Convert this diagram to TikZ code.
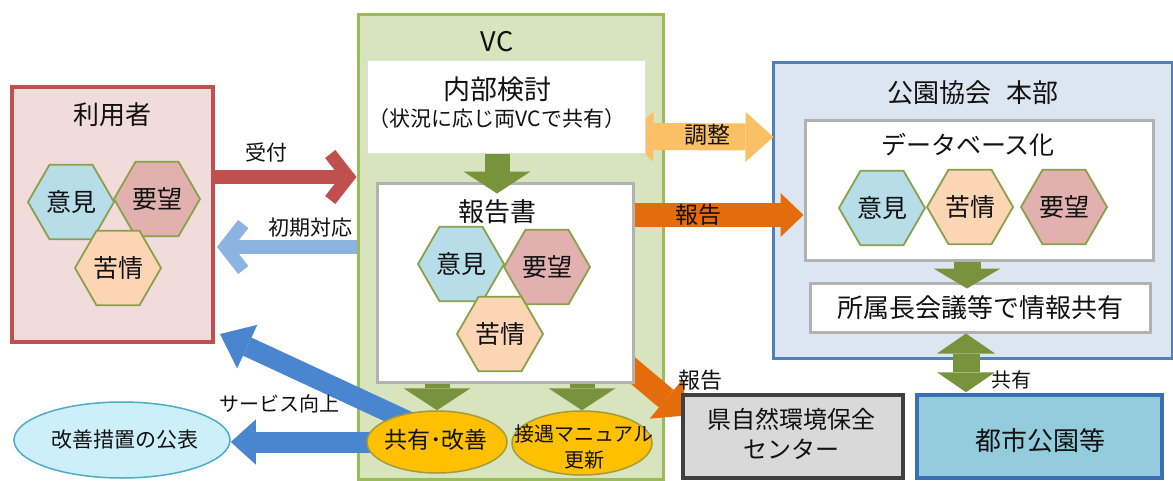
\documentclass[tikz,border=0pt]{standalone}
\usepackage{fontspec}
\setmainfont{Noto Sans CJK JP}
\usetikzlibrary{%
	arrows.meta,%
	calc,%
	shapes.geometric,%
	positioning%
}
\definecolor{usrline}{HTML}{C0504D}
\definecolor{usrfill}{HTML}{F2DCDB}
\definecolor{vcline}{HTML}{9BBB59}
\definecolor{vcfill}{HTML}{D7E4BD}
\definecolor{hqline}{HTML}{4F81BD}
\definecolor{hqfill}{HTML}{DCE6F2}
\definecolor{hexline}{HTML}{8AA04A}
\definecolor{iken}{HTML}{B7DEE8}
\definecolor{yobo}{HTML}{E2B0AF}
\definecolor{kujo}{HTML}{FCD5B5}
\definecolor{grn}{HTML}{77933C}
\definecolor{orng}{HTML}{E46C0A}
\definecolor{lorng}{HTML}{FBC066}
\definecolor{blu}{HTML}{4A86D0}
\definecolor{lblu}{HTML}{8DB3E2}
\definecolor{gold}{HTML}{FFC000}
\definecolor{goldline}{HTML}{A59A3A}
\definecolor{cyanfill}{HTML}{CDEFFA}
\definecolor{cyanline}{HTML}{4BACC6}
\definecolor{ctrfill}{HTML}{D9D9D9}
\definecolor{ctrline}{HTML}{404040}
\definecolor{parkfill}{HTML}{93CDDD}
\definecolor{parkline}{HTML}{3C6EB4}
\definecolor{txt}{HTML}{111111}

\pgfdeclarelayer{back}
\pgfdeclarelayer{mid}
\pgfsetlayers{back,mid,main}

\tikzset{
	box/.style={rectangle, inner sep=0pt},
	whitebox/.style={box, fill=white, draw=gray!60, line width=3pt},
	hexa/.style={regular polygon, regular polygon sides=6, minimum size=86pt, inner sep=0pt,
		draw=hexline, line width=1.8pt, text=txt, font=\fontsize{25}{27}\selectfont},
	oval/.style={ellipse, inner sep=0pt, line width=1.5pt},
	ttl/.style={text=txt, font=\fontsize{26}{28}\selectfont, inner sep=0pt},
	lbl/.style={text=txt, font=\fontsize{21}{23}\selectfont, inner sep=0pt},
	blk/.style={line width=#1},
	tri/.style 2 args={-{Triangle[length=#1,width=#2,line width=0pt]}},
	dtri/.style 2 args={{Triangle[length=#1,width=#2,line width=0pt]}-{Triangle[length=#1,width=#2,line width=0pt]}},
	barb/.style={-{Straight Barb[length=18pt,width=46pt,line width=13pt]}}
}

\begin{document}
\begin{tikzpicture}[x=1pt,y=-1pt,>=Stealth]
	\useasboundingbox (0,0) rectangle (1173,480);
	% outer boxes
	\begin{pgfonlayer}{back}
		\node[box, draw=usrline, fill=usrfill, line width=4pt, minimum width=201pt, minimum height=255pt] (user) at (112.5,214.5) {};
		\node[box, draw=vcline, fill=vcfill, line width=3pt, minimum width=305pt, minimum height=465pt] (vc) at (510.5,246.5) {};
		\node[box, draw=hqline, fill=hqfill, line width=3pt, minimum width=399pt, minimum height=296pt] (hq) at (972.5,210) {};
	\end{pgfonlayer}
	% inner boxes
	\node[box, fill=white, draw=gray!25, line width=1pt, minimum width=278pt, minimum height=93pt] (naibu) at (506,106.5) {};
	\node[whitebox, minimum width=256pt, minimum height=199pt] (report) at (505,282.5) {};
	\node[whitebox, minimum width=348pt, minimum height=140pt] (db) at (979,190) {};
	\node[whitebox, minimum width=340pt, minimum height=49pt] (share) at (980,307.5) {};
	\node[box, fill=ctrfill, draw=ctrline, line width=3.5pt, minimum width=220pt, minimum height=83pt] (ken) at (793,436.5) {};
	\node[box, fill=parkfill, draw=parkline, line width=3.5pt, minimum width=245pt, minimum height=83pt] (toshi) at (1039.5,436.5) {};
	\node[oval, fill=gold, draw=goldline, minimum width=140pt, minimum height=62pt] (kyoyu) at (437,442) {};
	\node[oval, fill=gold, draw=goldline, minimum width=140pt, minimum height=64pt] (settu) at (582,443) {};
	\node[oval, fill=cyanfill, draw=cyanline, minimum width=216pt, minimum height=76pt] (kaizen) at (122,440) {};
	% titles
	\node[ttl] (t-user) at (112,115) {利用者};
	\node[ttl, font=\fontsize{27}{29}\selectfont] (t-vc) at (497,42) {VC};
	\node[ttl, font=\fontsize{27}{29}\selectfont] (t-naibu) at (497,89) {内部検討};
	\node[ttl, font=\fontsize{21}{23}\selectfont] (t-jokyo) at (497,119) {（状況に応じ両VCで共有）};
	\node[ttl] (t-report) at (497,212) {報告書};
	\node[ttl] (t-hq) at (973,93) {公園協会\hspace{0.6em}本部};
	\node[ttl, font=\fontsize{25}{27}\selectfont] (t-db) at (968,145) {データベース化};
	\node[ttl] (t-share) at (980,308) {所属長会議等で情報共有};
	\node[ttl, font=\fontsize{24}{30}\selectfont, align=center] (t-ken) at (791,434) {県自然環境保全\\センター};
	\node[ttl] (t-toshi) at (1040,441) {都市公園等};
	\node[ttl, font=\fontsize{23}{25}\selectfont] (t-kyoyu) at (436,440) {共有･改善};
	\node[ttl, font=\fontsize{20}{26}\selectfont, align=center] (t-settu) at (584,447) {接遇マニュアル\\更新};
	\node[ttl, font=\fontsize{21}{23}\selectfont] (t-kaizen) at (125,440) {改善措置の公表};
	% hexagons
	\foreach \n/\t/\c/\x/\y in {u1/意見/iken/71/202, u2/要望/yobo/157/199, u3/苦情/kujo/118/268,
		r1/意見/iken/461/264, r2/要望/yobo/547/267, r3/苦情/kujo/500/334,
		d1/意見/iken/882/208, d2/苦情/kujo/970/207, d3/要望/yobo/1064/207}
		\node[hexa, fill=\c] (hx-\n) at (\x,\y) {\t};
	% block arrows
	\begin{pgfonlayer}{mid}
		\draw[blk=14pt, usrline, barb] ($(user.east)+(0,-37.5)$) -- ($(vc.west)+(0,-69.5)$);
		\draw[blk=14pt, lblu, barb] ($(vc.west)+(0,0.5)$) -- ($(user.east)+(2,32.5)$);
		\draw[blk=20pt, blu, tri={30pt}{48pt}] ($(kyoyu.center)+(-25,-19)$) -- ($(user.south east)+(5,-10)$);
		\draw[blk=21pt, blu, tri={25pt}{45pt}] (kyoyu.center) -- (kyoyu.center -| kaizen.east);
		\draw[blk=27pt, lorng, dtri={28pt}{50pt}] ($(naibu.east)+(-20,30)$) -- ($(hq.west)+(2,-73)$);
		\draw[blk=24pt, orng, tri={23pt}{44pt}] ($(report.east)+(0,-67.5)$) -- ($(db.west)+(0,25)$);
		\draw[blk=23pt, orng, tri={26pt}{52pt}] ($(report.south east)+(-10,-20)$) -- ($(ken.west)+(5,-21)$);
	\end{pgfonlayer}
	\draw[blk=25pt, grn, tri={22pt}{67pt}] ($(naibu.south)+(-9,0)$) -- ($(report.north)+(-8,12)$);
	\draw[blk=25pt, grn, tri={22pt}{67pt}] (report.south -| kyoyu.north) -- (kyoyu.north);
	\draw[blk=25pt, grn, tri={22pt}{67pt}] (report.south -| settu.north) -- (settu.north);
	\draw[blk=27pt, grn, tri={20pt}{67pt}] ($(db.south)+(-12,0)$) -- ($(share.north)+(-13,7)$);
	\draw[blk=27pt, grn, dtri={20pt}{58pt}] ($(share.south)+(-14,0)$) -- ($(toshi.north)+(-73.5,-1)$);
	% labels
	\node[lbl] (l-uke) at (266,152) {受付};
	\node[lbl] (l-shoki) at (310,228) {初期対応};
	\node[lbl, font=\fontsize{20}{22}\selectfont] (l-svc) at (279,404) {サービス向上};
	\node[lbl, font=\fontsize{23}{25}\selectfont] (l-chosei) at (707,135) {調整};
	\node[lbl, font=\fontsize{23}{25}\selectfont] (l-hokoku) at (698,215) {報告};
	\node[lbl, font=\fontsize{22}{24}\selectfont] (l-hokoku2) at (700,380) {報告};
	\node[lbl, font=\fontsize{20}{22}\selectfont] (l-kyoyu) at (1011,380) {共有};
\end{tikzpicture}
\end{document}
